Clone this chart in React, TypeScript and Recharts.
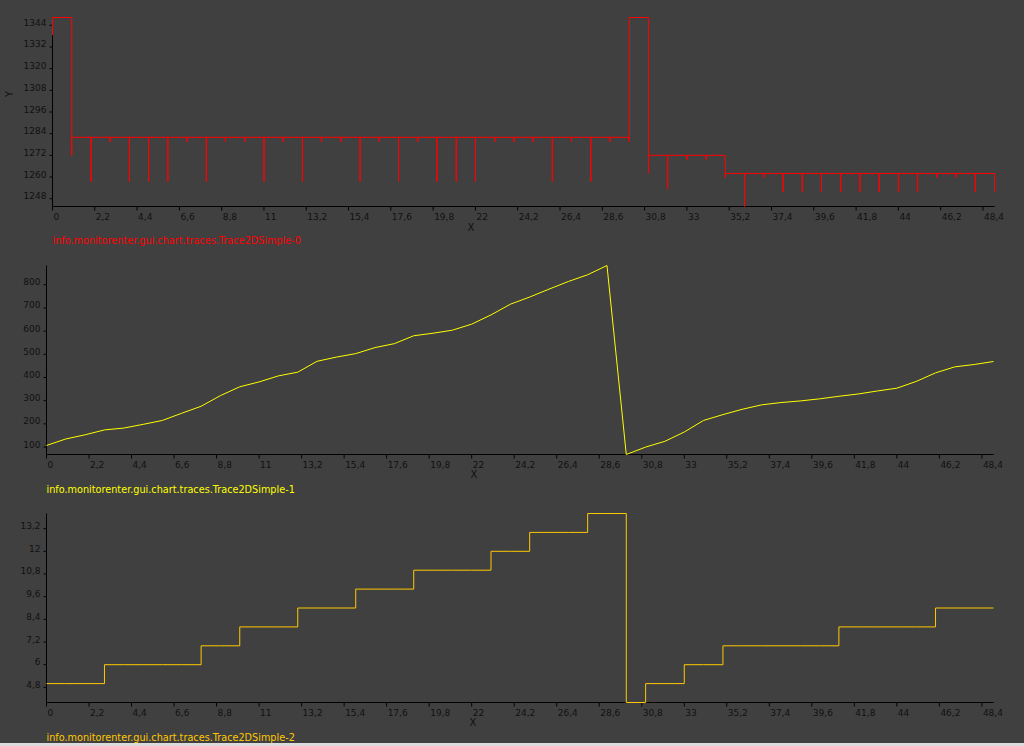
import React from 'react';
import { LineChart, Line, XAxis, YAxis } from 'recharts';

// sample times, shared by the three traces
const sampleX = [
  0, 1, 2, 3, 4, 5, 6, 7, 8, 9, 10, 11, 12, 13, 14, 15, 16, 17, 18, 19, 20, 21, 22, 23, 24,
  25, 26, 27, 28, 29, 30, 31, 32, 33, 34, 35, 36, 37, 38, 39, 40, 41, 42, 43, 44, 45, 46, 47, 48, 49,
];
const xTicks = [0, 2.2, 4.4, 6.6, 8.8, 11, 13.2, 15.4, 17.6, 19.8, 22, 24.2, 26.4, 28.6, 30.8, 33, 35.2, 37.4, 39.6, 41.8, 44, 46.2, 48.4];

// Trace2DSimple-0: level held after each sample, and the dip drawn at the sample
const level0 = [
  1348.3, 1282, 1282, 1282, 1282, 1282, 1282, 1282, 1282, 1282, 1282, 1282, 1282, 1282, 1282, 1282, 1282, 1282, 1282, 1282,
  1282, 1282, 1282, 1282, 1282, 1282, 1282, 1282, 1282, 1282, 1348.3, 1272, 1272, 1272, 1272, 1262, 1262, 1262, 1262, 1262,
  1262, 1262, 1262, 1262, 1262, 1262, 1262, 1262, 1262, 1262,
];
const dip0 = [
  1338.5, 1272, 1257.5, 1279.5, 1257.5, 1257.5, 1257.5, 1279.5, 1257.5, 1279.5, 1279.5, 1257.5, 1279.5, 1257.5, 1279.5, 1279.5, 1257.5, 1279.5, 1257.5, 1279.5,
  1257.5, 1257.5, 1257.5, 1279.5, 1279.5, 1279.5, 1257.5, 1279.5, 1257.5, 1279.5, 1279.5, 1262, 1253.4, 1269.7, 1269.7, 1259.7, 1243.7, 1259.7, 1251.8, 1251.8,
  1251.8, 1251.8, 1251.8, 1251.8, 1251.8, 1251.8, 1259.7, 1259.7, 1251.8, 1251.8,
];
const yTicks0 = [1248, 1260, 1272, 1284, 1296, 1308, 1320, 1332, 1344];

// Trace2DSimple-1
const values1 = [
  107, 135, 153, 174, 182, 198, 215, 246, 276, 322, 360, 381, 407, 423, 470, 488, 503, 529, 546, 580,
  591, 604, 630, 670, 716, 747, 781, 814, 843, 883, 68, 100, 125, 165, 215, 240, 263, 282, 292, 299,
  308, 319, 329, 342, 354, 383, 420, 446, 456, 469,
];
const yTicks1 = [100, 200, 300, 400, 500, 600, 700, 800];

// Trace2DSimple-2
const values2 = [
  5, 5, 5, 6, 6, 6, 6, 6, 7, 7, 8, 8, 8, 9, 9, 9, 10, 10, 10, 11,
  11, 11, 11, 12, 12, 13, 13, 13, 14, 14, 4, 5, 5, 6, 6, 7, 7, 7, 7, 7,
  7, 8, 8, 8, 8, 8, 9, 9, 9, 9,
];
const yTicks2 = [4.8, 6, 7.2, 8.4, 9.6, 10.8, 12, 13.2];

const traceNames = [
  'info.monitorenter.gui.chart.traces.Trace2DSimple-0',
  'info.monitorenter.gui.chart.traces.Trace2DSimple-1',
  'info.monitorenter.gui.chart.traces.Trace2DSimple-2',
];

const FONT = 'DejaVu Sans';
const fmt = (v: number) => String(v).replace('.', ',');

// each sample: vertical from previous level to the dip, then back to its level
const trace0Points: { x: number; y: number }[] = [];
sampleX.forEach((x, i) => {
  if (i > 0) trace0Points.push({ x, y: level0[i - 1] });
  trace0Points.push({ x, y: dip0[i] });
  trace0Points.push({ x, y: level0[i] });
});
const trace1Points = sampleX.map((x, i) => ({ x, y: values1[i] }));
const trace2Points = sampleX.map((x, i) => ({ x, y: values2[i] }));

const YTick = (props: any) => {
  const { x, y, payload } = props;
  return (
    <text x={x} y={y + 0.5} textAnchor="end" fontSize={9} fontFamily={FONT} fill="#111">
      {fmt(payload.value)}
    </text>
  );
};

const XTick = (props: any) => {
  const { x, y, payload } = props;
  return (
    <text x={x + 1} y={y + 9} textAnchor="start" fontSize={9} fontFamily={FONT} fill="#111">
      {fmt(payload.value)}
    </text>
  );
};

interface PanelProps {
  top: number;
  height: number;
  data: { x: number; y: number }[];
  yTicks: number[];
  yWidth: number;
  margin: { top: number; right: number; bottom: number; left: number };
  color: string;
  step?: boolean;
}

// axes chart underneath, trace drawn again in a chart on top so it covers the axis line
const Panel: React.FC<PanelProps> = ({ top, height, data, yTicks, yWidth, margin, color, step }) => {
  const xH = 30;
  const overMargin = { ...margin, left: margin.left + yWidth, bottom: margin.bottom + xH };
  return (
    <>
      <div style={{ position: 'absolute', top, left: 0 }}>
        <LineChart width={1024} height={height} data={data} margin={margin}>
          <XAxis type="number" dataKey="x" domain={[0, 49]} ticks={xTicks} interval={0} height={xH}
            tickSize={4} tickMargin={0} tick={<XTick />} axisLine={{ stroke: '#000' }} tickLine={{ stroke: '#000' }} />
          <YAxis type="number" domain={['dataMin', 'dataMax']} ticks={yTicks} interval={0} width={yWidth}
            tickSize={3} tickMargin={3} tick={<YTick />} axisLine={{ stroke: '#000' }} tickLine={{ stroke: '#000' }} />
          <Line type="linear" dataKey="y" stroke="none" dot={false} isAnimationActive={false} />
        </LineChart>
      </div>
      <div style={{ position: 'absolute', top, left: 0 }}>
        <LineChart width={1024} height={height} data={data} margin={overMargin}>
          <XAxis type="number" dataKey="x" domain={[0, 49]} hide />
          <YAxis type="number" domain={['dataMin', 'dataMax']} hide />
          <Line type={step ? 'stepAfter' : 'linear'} dataKey="y" stroke={color} strokeWidth={1}
            dot={false} isAnimationActive={false} />
        </LineChart>
      </div>
    </>
  );
};

export default function App() {
  return (
    <div style={{ position: 'fixed', top: 0, left: 0, width: 1024, height: 746, background: '#404040', overflow: 'hidden' }}>
      <Panel top={0} height={250} data={trace0Points} yTicks={yTicks0} yWidth={52}
        margin={{ top: 17.5, right: 29.5, bottom: 13.5, left: 0.5 }} color="#ff0000" />
      <Panel top={250} height={250} data={trace1Points} yTicks={yTicks1} yWidth={46}
        margin={{ top: 15.5, right: 30.5, bottom: 15.5, left: 0.5 }} color="#ffff00" />
      <Panel top={500} height={246} data={trace2Points} yTicks={yTicks2} yWidth={46}
        margin={{ top: 13.5, right: 30.5, bottom: 13.5, left: 0.5 }} color="#ffc800" step />
      {/* axis titles and trace names */}
      <svg width={1024} height={746} style={{ position: 'absolute', top: 0, left: 0, pointerEvents: 'none' }}>
        <text x={13} y={94} textAnchor="middle" fontSize={10} fontFamily={FONT} fill="#111" transform="rotate(-90 13 94)">Y</text>
        <text x={471} y={230.5} textAnchor="middle" fontSize={10} fontFamily={FONT} fill="#111">X</text>
        <text x={474} y={477.5} textAnchor="middle" fontSize={10} fontFamily={FONT} fill="#111">X</text>
        <text x={473} y={726} textAnchor="middle" fontSize={10} fontFamily={FONT} fill="#111">X</text>
        <text x={52.5} y={244} fontSize={9.7} fontFamily={FONT} fill="#ff0000">{traceNames[0]}</text>
        <text x={46.5} y={493} fontSize={9.7} fontFamily={FONT} fill="#ffff00">{traceNames[1]}</text>
        <text x={46.5} y={740.5} fontSize={9.7} fontFamily={FONT} fill="#ffc800">{traceNames[2]}</text>
      </svg>
      <div style={{ position: 'absolute', top: 743, left: 0, width: 1024, height: 3, background: '#dcdcdc' }} />
    </div>
  );
}
